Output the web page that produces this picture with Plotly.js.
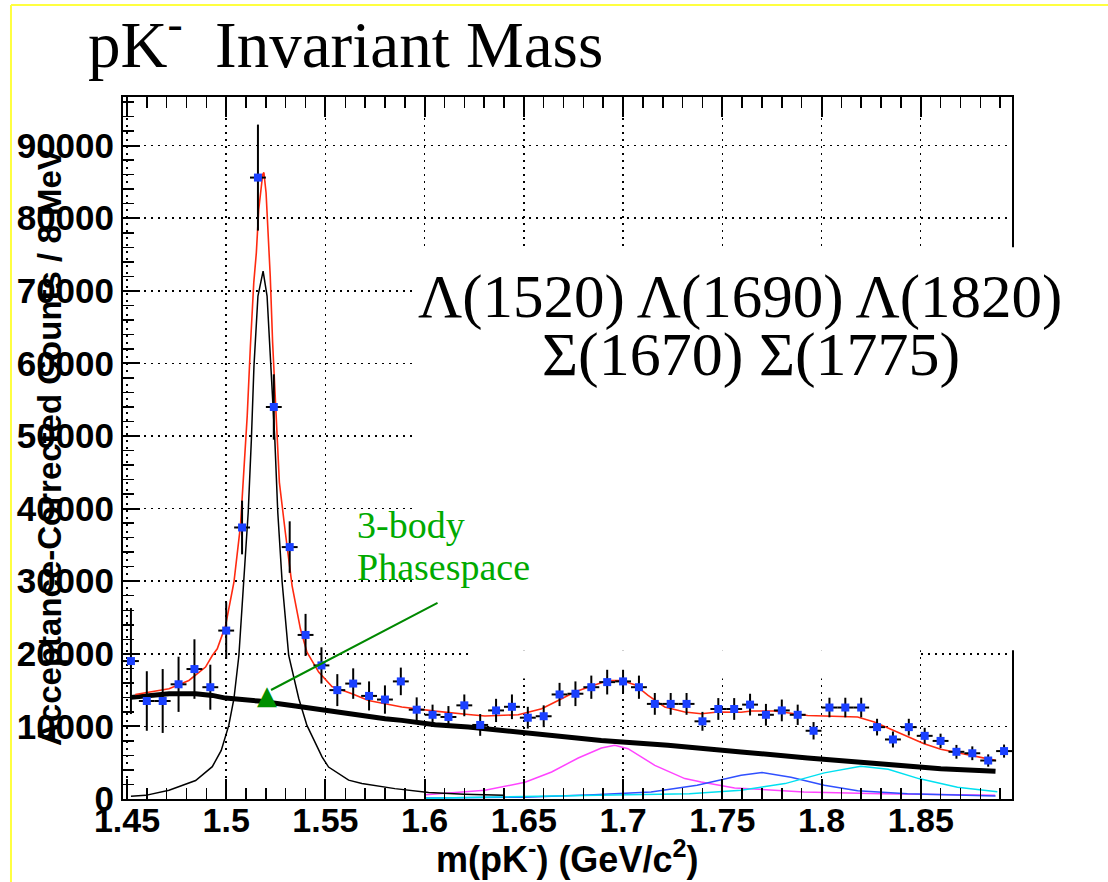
<!DOCTYPE html>
<html>
<head>
<meta charset="utf-8">
<script src="https://cdn.plot.ly/plotly-3.0.1.min.js"></script>
<style>html,body{margin:0;padding:0;background:#fff;}#chart{width:1108px;height:882px;}</style>
</head>
<body>
<div id="chart"></div>
<script>
// ---- data ----
const massBins = [1.452,1.460,1.468,1.476,1.484,1.492,1.500,1.508,1.516,1.524,1.532,1.540,1.548,1.556,1.564,1.572,1.580,1.588,1.596,1.604,1.612,1.620,1.628,1.636,1.644,1.652,1.660,1.668,1.676,1.684,1.692,1.700,1.708,1.716,1.724,1.732,1.740,1.748,1.756,1.764,1.772,1.780,1.788,1.796,1.804,1.812,1.820,1.828,1.836,1.844,1.852,1.860,1.868,1.876,1.884,1.892];
const counts = [19000,13500,13500,15800,17900,15400,23200,37400,85600,54000,34700,22600,18400,15000,15900,14200,13700,16200,12300,11600,11300,12900,10200,12200,12700,11200,11400,14400,14500,15400,16100,16200,15400,13100,13100,13100,10700,12400,12400,13000,11600,12200,11600,9400,12600,12600,12600,9900,8200,9900,8700,8000,6500,6300,5300,6600];
const countErrors = [7300,4100,4400,3800,4100,3100,3900,3700,7300,4500,3550,2900,2500,2200,2100,2000,1950,1900,1700,1400,1500,1500,1500,1600,1700,1500,1500,1600,1700,1600,1700,1600,1600,1500,1500,1500,1300,1500,1500,1500,1500,1500,1400,1200,1350,1350,1350,1150,1100,1150,1100,1000,950,950,850,900];
const binHalfWidth = 0.004;

// total fit (red)
const totalFitX = [1.4542,1.4712,1.4812,1.4896,1.4930,1.4955,1.4997,1.5039,1.5072,1.5094,1.5106,1.5122,1.5139,1.5152,1.5164,1.5184,1.5190,1.5201,1.5211,1.5222,1.5234,1.5248,1.5268,1.5298,1.5332,1.5374,1.5407,1.5466,1.5533,1.5634,1.5717,1.5885,1.6053,1.6220,1.6304,1.6472,1.6590,1.6673,1.6757,1.6841,1.6925,1.6992,1.7059,1.7126,1.7210,1.7311,1.7394,1.7478,1.7595,1.7646,1.7762,1.7930,1.8014,1.8182,1.8266,1.8349,1.8433,1.8517,1.8601,1.8685,1.8768,1.8877];
const totalFitY = [14400,15190,16330,18170,19770,20690,23900,29860,37650,46820,52780,62410,71130,75260,81210,86030,86300,83510,78000,72040,62870,54620,43620,36740,29400,23440,20230,17480,15500,14500,13580,12670,12100,11650,11430,11610,12430,13580,14730,15560,16330,16330,15740,14270,12670,11980,11750,11980,11950,12120,12120,11510,11430,11290,10600,9590,8540,7620,6840,6380,5930,5320];

// Lambda(1520) Breit-Wigner (thin black)
const lambda1520X = [1.4520,1.4594,1.4712,1.4846,1.4930,1.4975,1.5013,1.5039,1.5064,1.5089,1.5111,1.5127,1.5140,1.5160,1.5186,1.5206,1.5226,1.5245,1.5260,1.5282,1.5315,1.5366,1.5407,1.5483,1.5516,1.5617,1.5684,1.5850,1.6020,1.6200,1.6400];
const lambda1520Y = [380,500,1200,2550,4450,6700,10140,13810,19770,29860,39490,49570,59660,69280,72720,69280,59660,49570,39490,29860,19770,13810,10140,5800,4400,2600,2150,1430,880,650,500];

// 3-body phase space (thick black)
const phaseSpaceX = [1.4520,1.4712,1.4846,1.4930,1.4997,1.5164,1.5349,1.5550,1.5801,1.5885,1.6053,1.6220,1.6555,1.6890,1.7226,1.7561,1.7595,1.7930,1.8266,1.8601,1.8877];
const phaseSpaceY = [14000,14500,14500,14270,13900,13490,12810,11980,11060,10830,10230,9910,9000,8070,7390,6700,6480,5650,4870,4180,3810];

// Lambda(1690) (magenta)
const lambda1690X = [1.6005,1.6304,1.6506,1.6640,1.6774,1.6891,1.6958,1.7025,1.7160,1.7311,1.7394,1.7562,1.7911,1.8297,1.8875];
const lambda1690Y = [600,1200,2300,3720,5650,7030,7390,6930,4640,2810,2350,1530,980,740,510];

// Sigma(1775) (blue)
const sigma1775X = [1.6005,1.6500,1.6852,1.7141,1.7373,1.7526,1.7595,1.7700,1.7846,1.8014,1.8182,1.8433,1.8877];
const sigma1775Y = [150,250,600,980,1890,2810,3260,3650,3000,1900,1150,740,430];

// Lambda(1820) (cyan)
const lambda1820X = [1.6005,1.6462,1.7334,1.7595,1.7816,1.8014,1.8198,1.8336,1.8433,1.8490,1.8685,1.8886];
const lambda1820Y = [100,290,740,1200,2120,3600,4500,4100,3300,2810,1620,1000];

// ticks
const xTickVals = [1.45,1.5,1.55,1.6,1.65,1.7,1.75,1.8,1.85];
const xTickText = ['1.45','1.5','1.55','1.6','1.65','1.7','1.75','1.8','1.85'];
const yTickVals = [0,10000,20000,30000,40000,50000,60000,70000,80000,90000];
const yTickText = ['0','10000','20000','30000','40000','50000','60000','70000','80000','90000'];

// ---- chart ----
const X0 = 1.448, X1 = 1.896, Y0 = 0, Y1 = 96700;
function yp(v){ return (v - Y0)/(Y1 - Y0); }

const traces = [
  {x: lambda1690X, y: lambda1690Y, mode:'lines', line:{color:'#ff44ff', width:1.5}},
  {x: sigma1775X, y: sigma1775Y, mode:'lines', line:{color:'#3050ff', width:1.5}},
  {x: lambda1820X, y: lambda1820Y, mode:'lines', line:{color:'#00e0f0', width:1.5}},
  {x: lambda1520X, y: lambda1520Y, mode:'lines', line:{color:'#000000', width:1.5}},
  {x: phaseSpaceX, y: phaseSpaceY, mode:'lines', line:{color:'#000000', width:5}},
  {x: totalFitX, y: totalFitY, mode:'lines', line:{color:'#ff2a10', width:1.6}},
  {x: massBins, y: counts, mode:'markers',
   marker:{symbol:'square', size:8, color:'#1a40ff'},
   error_y:{type:'data', array: countErrors, visible:true, color:'#000', thickness:2, width:0},
   error_x:{type:'constant', value: binHalfWidth, visible:true, color:'#000', thickness:2, width:0}}
];

const sansBold = 'Liberation Sans, Arial, sans-serif';
const serif = 'Liberation Serif, Times New Roman, serif';

const layout = {
  width:1108, height:882,
  margin:{l:123, r:96, t:97, b:83},
  paper_bgcolor:'#fff', plot_bgcolor:'#fff',
  showlegend:false,
  title:{text:'pK<sup>-</sup>\u00a0 Invariant Mass', xref:'container', yref:'container', x:88/1108, xanchor:'left', y:1-44/882, yanchor:'middle', font:{family:serif, size:65, color:'#000'}},
  xaxis:{range:[X0,X1], tickmode:'array', tickvals:xTickVals, ticktext:xTickText,
    tickfont:{family:sansBold, size:34, color:'#000', weight:'bold'}, ticklabelstandoff:-10,
    ticks:'inside', ticklen:20, tickwidth:2, tickcolor:'#000',
    showline:true, linecolor:'#000', linewidth:2, mirror:'ticks',
    showgrid:true, gridcolor:'#000', gridwidth:1.5, griddash:'2px,5px', zeroline:false,
    minor:{tickmode:'linear', tick0:1.45, dtick:0.01, ticks:'inside', ticklen:11, tickwidth:1.5, tickcolor:'#000', showgrid:false}},
  yaxis:{range:[Y0,Y1], tickmode:'array', tickvals:yTickVals, ticktext:yTickText,
    tickfont:{family:sansBold, size:35, color:'#000', weight:'bold'},
    ticks:'inside', ticklen:17, tickwidth:2, tickcolor:'#000',
    showline:true, linecolor:'#000', linewidth:2, mirror:true,
    showgrid:true, gridcolor:'#000', gridwidth:1.5, griddash:'2px,5px', zeroline:false,
    minor:{tickmode:'linear', tick0:0, dtick:2000, ticks:'inside', ticklen:11, tickwidth:1.5, tickcolor:'#000', showgrid:false}},
  shapes:[
    {type:'rect', layer:'above', xref:'paper', yref:'paper', x0:(1.596-X0)/(X1-X0), x1:1.06, y0:yp(20500), y1:yp(76000), fillcolor:'#fff', line:{width:0}},
    {type:'rect', layer:'between', xref:'x', yref:'y', x0:1.622, x1:1.8495, y0:16600, y1:20500, fillcolor:'#fff', line:{width:0}},
    {type:'line', xref:'paper', yref:'paper', x0:-0.126, x1:-0.126, y0:-0.2, y1:1.131, line:{color:'#ffff40', width:2}},
    {type:'line', xref:'paper', yref:'paper', x0:-0.126, x1:1.12, y0:1.131, y1:1.131, line:{color:'#ffff40', width:2}}
  ],
  annotations:[
    {text:'Λ(1520) Λ(1690) Λ(1820)', xref:'paper', yref:'paper', x:(740-123)/889, y:(799-297)/702, xanchor:'center', yanchor:'middle', showarrow:false, font:{family:serif, size:61, color:'#000'}},
    {text:'Σ(1670) Σ(1775)', xref:'paper', yref:'paper', x:(751-123)/889, y:(799-354)/702, xanchor:'center', yanchor:'middle', showarrow:false, font:{family:serif, size:62, color:'#000'}},
    {text:'3-body', xref:'paper', yref:'paper', x:(355-123)/889, y:(799-525)/702, xanchor:'left', yanchor:'middle', showarrow:false, font:{family:serif, size:38, color:'#00aa00'}},
    {text:'Phasespace', xref:'paper', yref:'paper', x:(355-123)/889, y:(799-567)/702, xanchor:'left', yanchor:'middle', showarrow:false, font:{family:serif, size:38, color:'#00aa00'}},
    {text:'', x:1.5226, y:15015, xref:'x', yref:'y', showarrow:true, arrowhead:0, arrowwidth:2, arrowcolor:'#008800', ax:168, ay:-88},
    {text:'▲', x:1.5206, y:14326, xref:'x', yref:'y', showarrow:false, xanchor:'center', yanchor:'middle', font:{family:'DejaVu Sans', size:26, color:'#009000'}},
    {text:'m(pK<sup>-</sup>) (GeV/c<sup>2</sup>)', xref:'paper', yref:'paper', x:(567-123)/889, y:(799-857)/702, xanchor:'center', yanchor:'middle', showarrow:false, font:{family:sansBold, size:36, color:'#000', weight:'bold'}},
    {text:'Acceptance-Corrected Counts / 8 MeV', textangle:-90, xref:'paper', yref:'paper', x:(49-123)/889, y:(799-447)/702, xanchor:'center', yanchor:'middle', showarrow:false, font:{family:sansBold, size:33, color:'#000', weight:'bold'}}
  ]
};

Plotly.newPlot('chart', traces, layout, {displayModeBar:false, staticPlot:true});
</script>
</body>
</html>
